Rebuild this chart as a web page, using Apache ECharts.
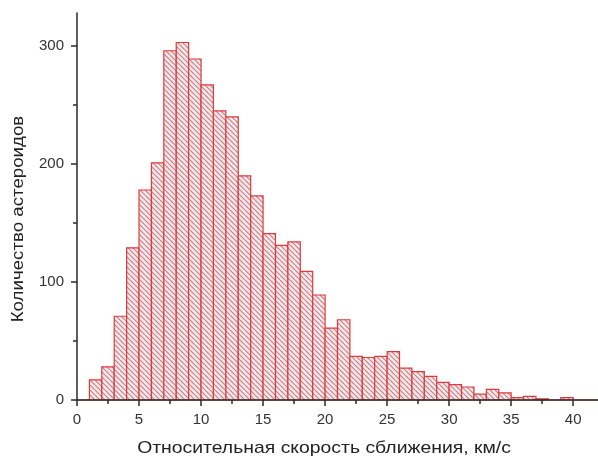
<!DOCTYPE html>
<html>
<head>
<meta charset="utf-8">
<script src="https://cdn.jsdelivr.net/npm/echarts@6/dist/echarts.min.js"></script>
<style>
html,body{margin:0;padding:0;background:#fff;}
#chart{width:598px;height:457px;}
</style>
</head>
<body>
<div id="chart"></div>
<script>
// Histogram bins: start of each 1 km/s bin and the count of asteroids
const binStarts = [0,1,2,3,4,5,6,7,8,9,10,11,12,13,14,15,16,17,18,19,20,21,22,23,24,25,26,27,28,29,30,31,32,33,34,35,36,37,38,39,40,41];
const counts    = [0,17,28,71,129,178,201,296,303,289,267,245,240,190,173,141,131,134,109,89,61,68,37,36,37,41,27,24,20,15,13,11,5,9,6,2,3,1,0,2,0,0];
const binWidth = 1;
const xMajorTicks = [0,5,10,15,20,25,30,35,40];
const xMinorTicks = [2.5,7.5,12.5,17.5,22.5,27.5,32.5,37.5];
const yMajorTicks = [0,100,200,300];
const yMinorTicks = [50,150,250];
const xTitle = 'Относительная скорость сближения, км/с';
const yTitle = 'Количество астероидов';

const data = binStarts.map((s, i) => [s, s + binWidth, counts[i]]);

// hatch pattern
const tile = document.createElement('canvas');
const T = 5;
tile.width = T; tile.height = T;
const c = tile.getContext('2d');
c.fillStyle = '#fae6e8';
c.fillRect(0, 0, T, T);
c.strokeStyle = '#bb868d';
c.lineWidth = 1.2;
for (let k = -1; k <= 1; k++) {
  c.beginPath();
  c.moveTo(k * T, 0);
  c.lineTo(k * T + T, T);
  c.stroke();
}

const font = "'Liberation Sans', Arial, sans-serif";
const chart = echarts.init(document.getElementById('chart'), null, {renderer: 'canvas'});
const axisLineStyle = {color: '#2a2a2a', width: 1.5};
chart.setOption({
  animation: false,
  backgroundColor: '#ffffff',
  grid: {left: 77, right: 0, top: 13, bottom: 57, containLabel: false},
  xAxis: [{
    type: 'value', min: 0, max: 42, position: 'bottom', z: 5,
    axisLine: {show: true, onZero: false, lineStyle: axisLineStyle},
    axisTick: {show: true, length: 6, inside: false, customValues: xMajorTicks, lineStyle: {color: '#2a2a2a', width: 1.5}},
    axisLabel: {customValues: xMajorTicks, margin: 12, fontSize: 15, color: '#333', fontFamily: font},
    splitLine: {show: false}
  }, {
    type: 'value', min: 0, max: 42, position: 'bottom', z: 5,
    axisLine: {show: false},
    axisTick: {show: true, length: 4, customValues: xMinorTicks, lineStyle: {color: '#2a2a2a', width: 1.5}},
    axisLabel: {show: false},
    splitLine: {show: false}
  }],
  yAxis: [{
    type: 'value', min: 0, max: 328, position: 'left', z: 5,
    axisLine: {show: true, onZero: false, lineStyle: axisLineStyle},
    axisTick: {show: true, length: 6, customValues: yMajorTicks, lineStyle: {color: '#2a2a2a', width: 1.5}},
    axisLabel: {customValues: yMajorTicks, margin: 13, fontSize: 15, color: '#333', fontFamily: font},
    splitLine: {show: false}
  }, {
    type: 'value', min: 0, max: 328, position: 'left', z: 5,
    axisLine: {show: false},
    axisTick: {show: true, length: 4, customValues: yMinorTicks, lineStyle: {color: '#2a2a2a', width: 1.5}},
    axisLabel: {show: false},
    splitLine: {show: false}
  }],
  graphic: [{
    type: 'text',
    x: 324, y: 448, scaleX: 1.14,
    style: {text: xTitle, font: '17px ' + font, fill: '#222', textAlign: 'center', textVerticalAlign: 'middle'}
  }, {
    type: 'text',
    x: 18, y: 219, rotation: Math.PI / 2, scaleX: 1.1,
    style: {text: yTitle, font: '17px ' + font, fill: '#222', textAlign: 'center', textVerticalAlign: 'middle'}
  }],
  series: [{
    type: 'custom',
    xAxisIndex: 0, yAxisIndex: 0,
    z: 2,
    data: data,
    encode: {x: [0, 1], y: 2},
    renderItem: function (params, api) {
      const p0 = api.coord([api.value(0), api.value(2)]);
      const p1 = api.coord([api.value(1), 0]);
      return {
        type: 'rect',
        shape: {x: p0[0], y: p0[1], width: p1[0] - p0[0], height: p1[1] - p0[1]},
        style: {fill: {image: tile, repeat: 'repeat'}, stroke: '#e0393b', lineWidth: 1.2}
      };
    }
  }]
});
</script>
</body>
</html>
